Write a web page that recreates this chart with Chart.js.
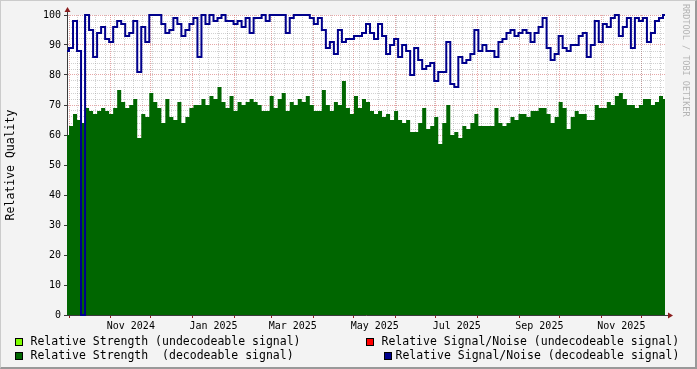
<!DOCTYPE html>
<html>
<head>
<meta charset="utf-8">
<title>Relative Quality</title>
<script src="https://cdn.jsdelivr.net/npm/chart.js@4.4.1/dist/chart.umd.min.js"></script>
<style>
    body { margin: 0; background: #f3f3f3; }
    #wrap {
        position: relative; width: 697px; height: 369px; overflow: hidden;
        background: #f3f3f3; font-family: 'DejaVu Sans Mono', monospace; color: #000;
    }
    #chart { position: absolute; left: 0; top: 0; }
    .frame {
        position: absolute; left: 0; top: 0; right: 0; bottom: 0; pointer-events: none;
        border-style: solid; border-width: 1px 2px 2px 1px;
        border-color: #cbcbcb #999 #999 #cbcbcb;
    }
    .sw { position: absolute; width: 6px; height: 6px; border: 1px solid #000; }
    .lt { position: absolute; font-size: 11.5px; line-height: 14px; white-space: pre; }
    .mark {
        position: absolute; left: 681px; top: 4px; writing-mode: vertical-rl;
        font-size: 8.5px; line-height: 10px; color: #b4b4b4; white-space: pre;
    }
</style>
</head>
<body>
<div id="wrap">
    <canvas id="chart" width="697" height="369"></canvas>

    <div class="sw"  style="left:15px;top:338px;background:#7fff00"></div>
    <div class="lt"  style="left:30.5px;top:334px">Relative Strength (undecodeable signal)</div>
    <div class="sw"  style="left:15px;top:352px;background:#006600"></div>
    <div class="lt"  style="left:30.5px;top:347.5px">Relative Strength  (decodeable signal)</div>

    <div class="sw"  style="left:366px;top:338px;background:#ff0000"></div>
    <div class="lt"  style="left:381.5px;top:334px">Relative Signal/Noise (undecodeable signal)</div>
    <div class="sw"  style="left:384px;top:352px;background:#00008c"></div>
    <div class="lt"  style="left:395.5px;top:347.5px">Relative Signal/Noise (decodeable signal)</div>

    <div class="mark">RRDTOOL / TOBI OETIKER</div>
    <div class="frame"></div>
</div>

<script>
    // ── Data (one sample ≈ every 3 days) ──────────────────────────────
    const START_UTC = Date.UTC(2024, 8, 29, 12);   // left edge of the plot
    const SPAN_DAYS = 445;                          // right edge: 18 Dec 2025
    const DAY_MS = 86400000;

    const strength = [
        60, 63, 67, 65, 64, 69, 68, 67, 68, 69,
        68, 67, 69, 75, 71, 69, 70, 72, 59, 67,
        66, 74, 71, 69, 64, 72, 66, 65, 71, 64,
        66, 69, 70, 70, 72, 70, 73, 72, 76, 71,
        69, 73, 68, 71, 70, 71, 72, 71, 70, 68,
        68, 73, 69, 72, 74, 68, 71, 70, 72, 71,
        73, 70, 68, 68, 75, 70, 68, 71, 70, 78,
        69, 67, 73, 69, 72, 71, 68, 67, 68, 66,
        67, 65, 68, 65, 64, 65, 61, 61, 64, 69,
        62, 63, 66, 57, 64, 70, 60, 61, 59, 63,
        62, 64, 67, 63, 63, 63, 63, 69, 64, 63,
        64, 66, 65, 67, 67, 66, 68, 68, 69, 69,
        67, 64, 66, 71, 69, 62, 66, 68, 67, 67,
        65, 65, 70, 69, 69, 71, 70, 73, 74, 72,
        70, 70, 69, 70, 72, 72, 70, 71, 73, 72
    ];

    const signalNoise = [
        88, 89, 98, 88, 0, 100, 95, 86, 94, 96,
        92, 91, 96, 98, 97, 93, 94, 98, 81, 96,
        91, 100, 100, 100, 97, 94, 95, 99, 97, 93,
        95, 97, 99, 86, 100, 97, 100, 98, 99, 100,
        98, 98, 97, 98, 96, 99, 94, 99, 99, 100,
        98, 100, 100, 100, 100, 94, 99, 100, 100, 100,
        100, 99, 97, 99, 95, 89, 91, 87, 95, 91,
        92, 92, 93, 93, 94, 97, 94, 92, 97, 93,
        87, 90, 92, 86, 90, 88, 80, 89, 85, 82,
        83, 84, 78, 81, 81, 91, 77, 76, 86, 84,
        85, 87, 95, 88, 90, 88, 88, 86, 91, 92,
        94, 95, 93, 94, 95, 94, 91, 94, 96, 99,
        89, 85, 87, 93, 89, 88, 90, 90, 93, 94,
        86, 90, 98, 91, 97, 96, 99, 100, 93, 96,
        99, 89, 99, 98, 99, 91, 94, 98, 99, 100
    ];

    const xLabels      = ['Nov 2024', 'Jan 2025', 'Mar 2025', 'May 2025', 'Jul 2025', 'Sep 2025', 'Nov 2025'];
    const xLabelMonths = [[2024, 10], [2025, 0], [2025, 2], [2025, 4], [2025, 6], [2025, 8], [2025, 10]];

    // ── Colours ───────────────────────────────
    const GREEN  = '#006600';
    const BLUE   = '#00008c';
    const MGRID  = 'rgba(200, 60, 60, 0.45)';
    const GRID   = 'rgba(140, 140, 140, 0.40)';
    const AXIS   = '#3a3a3a';
    const ARROW  = '#8b1e1e';

    Chart.defaults.font.family = "'DejaVu Sans Mono', monospace";
    Chart.defaults.color = '#000';

    // ── Helpers ───────────────────────────────
    const dayOf = (y, m, d = 1) => (Date.UTC(y, m, d) - START_UTC) / DAY_MS;
    const toPoints = arr => arr.map((v, i) => ({ x: i * SPAN_DAYS / (arr.length - 1), y: v }));

    // month boundaries (red grid) + label positions centred in the month
    const monthTicks = [];
    for (let y = 2024, m = 9; y < 2026; m++) {
        if (m > 11) { m = 0; y++; }
        const d = dayOf(y, m);
        if (d > SPAN_DAYS) break;
        if (d >= 0) monthTicks.push({ value: d });
    }
    const labelTicks = xLabelMonths.map(([y, m], i) => ({
        value: (dayOf(y, m) + dayOf(y, m + 1)) / 2,
        lbl: xLabels[i]
    }));

    // weekly minor grid (Mondays)
    const weekTicks = [];
    for (let d = dayOf(2024, 8, 30); d <= SPAN_DAYS; d += 7) weekTicks.push({ value: d });

    // ── Plugins ───────────────────────────────
    const plotBackground = {
        id: 'plotBackground',
        beforeDraw(chart) {
            const { ctx, chartArea: a } = chart;
            ctx.save();
            ctx.fillStyle = '#ffffff';
            ctx.fillRect(a.left, a.top, a.right - a.left, a.bottom - a.top);
            ctx.restore();
        }
    };

    const axisArrows = {
        id: 'axisArrows',
        afterDraw(chart) {
            const { ctx, chartArea: a } = chart;
            const x0 = Math.round(a.left) + 0.5, y0 = Math.round(a.bottom) + 0.5;
            ctx.save();
            ctx.strokeStyle = AXIS;
            ctx.lineWidth = 1;
            ctx.beginPath();
            ctx.moveTo(a.right, y0); ctx.lineTo(a.right + 4, y0);
            ctx.moveTo(x0, a.top);   ctx.lineTo(x0, a.top - 4);
            ctx.stroke();
            ctx.fillStyle = ARROW;
            ctx.beginPath();
            ctx.moveTo(a.right + 3, y0 - 3); ctx.lineTo(a.right + 8, y0); ctx.lineTo(a.right + 3, y0 + 3);
            ctx.closePath(); ctx.fill();
            ctx.beginPath();
            ctx.moveTo(x0 - 3, a.top - 3); ctx.lineTo(x0, a.top - 8); ctx.lineTo(x0 + 3, a.top - 3);
            ctx.closePath(); ctx.fill();
            ctx.restore();
        }
    };

    // ── Chart ─────────────────────────────────
    new Chart(document.getElementById('chart'), {
        type: 'line',
        data: {
            datasets: [
                {
                    label: 'Relative Signal/Noise (decodeable signal)',
                    data: toPoints(signalNoise),
                    borderColor: BLUE,
                    borderWidth: 2,
                    stepped: 'middle',
                    fill: false,
                    pointRadius: 0,
                    clip: 3,
                    order: 0
                },
                {
                    label: 'Relative Strength  (decodeable signal)',
                    data: toPoints(strength),
                    borderWidth: 0,
                    borderColor: GREEN,
                    backgroundColor: GREEN,
                    stepped: 'middle',
                    fill: 'origin',
                    pointRadius: 0,
                    order: 1
                }
            ]
        },
        options: {
            responsive: false,
            devicePixelRatio: 1,
            animation: false,
            events: [],
            layout: { padding: { top: 15, right: 32, bottom: 34, left: 0 } },
            plugins: { legend: { display: false }, tooltip: { enabled: false } },
            scales: {
                x: {
                    type: 'linear', min: 0, max: SPAN_DAYS, z: 1,
                    afterBuildTicks: s => { s.ticks = monthTicks.concat(labelTicks).sort((a, b) => a.value - b.value); },
                    afterFit: s => { s.height = 20; },
                    ticks: {
                        autoSkip: false, maxRotation: 0, padding: 2,
                        font: { size: 10 },
                        callback: (v, i, ticks) => ticks[i].lbl || ''
                    },
                    grid: {
                        color: c => (c.tick && c.tick.lbl) ? 'transparent' : MGRID,
                        tickColor: c => (c.tick && c.tick.lbl) ? 'transparent' : ARROW,
                        tickLength: 3
                    },
                    border: { display: true, color: AXIS, width: 1, dash: [1, 1] }
                },
                xMinor: {
                    type: 'linear', position: 'bottom', min: 0, max: SPAN_DAYS, z: 1,
                    afterBuildTicks: s => { s.ticks = weekTicks.slice(); },
                    afterFit: s => { s.height = 0; },
                    ticks: { display: false },
                    grid: { color: GRID, drawTicks: false },
                    border: { display: false, dash: [1, 1] }
                },
                y: {
                    type: 'linear', min: 0, max: 100, z: 1,
                    afterFit: s => { s.width = 67; },
                    ticks: { stepSize: 10, padding: 3, font: { size: 10 } },
                    grid: { color: MGRID, tickColor: AXIS, tickLength: 3 },
                    border: { display: true, color: AXIS, width: 1, dash: [1, 1] },
                    title: { display: true, text: 'Relative Quality', font: { size: 11.5 }, padding: { top: 4, bottom: 4 } }
                },
                yMinor: {
                    type: 'linear', position: 'left', min: 0, max: 100, z: 1,
                    afterFit: s => { s.width = 0; },
                    ticks: { display: false, stepSize: 2 },
                    grid: {
                        color: c => (c.tick && c.tick.value % 10 === 0) ? 'transparent' : GRID,
                        drawTicks: false
                    },
                    border: { display: false, dash: [1, 1] }
                }
            }
        },
        plugins: [plotBackground, axisArrows]
    });
</script>
</body>
</html>
